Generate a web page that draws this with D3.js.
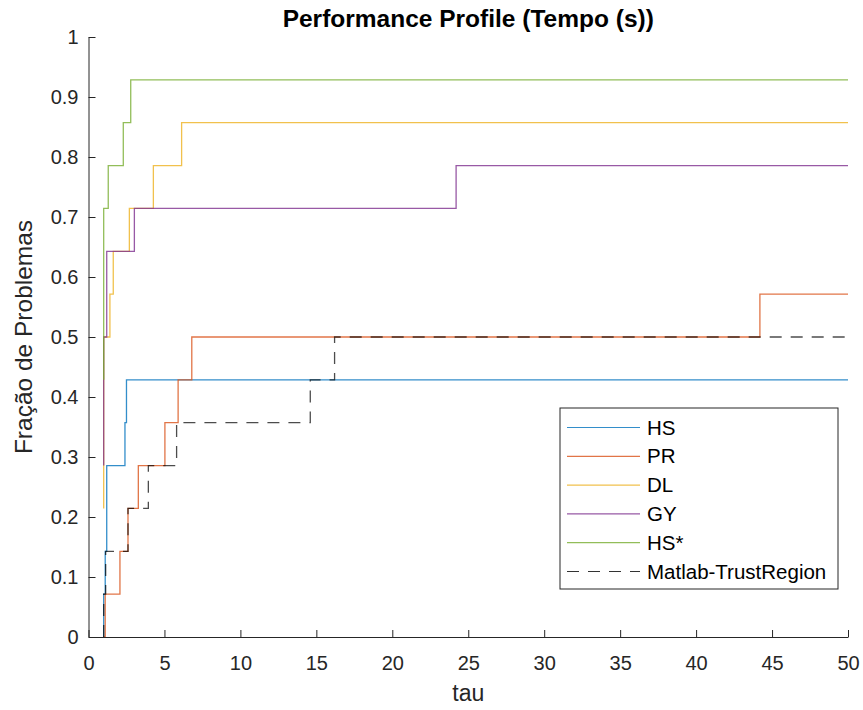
<!DOCTYPE html>
<html>
<head>
<meta charset="utf-8">
<script src="https://cdn.jsdelivr.net/npm/d3@7"></script>
<style>
  body { margin: 0; background: #fff; }
  text { font-family: "Liberation Sans", Arial, sans-serif; fill: #262626; }
</style>
</head>
<body>
<div id="chart"></div>
<script>
var w = 863,
    h = 710,
    m = {top: 37, right: 15, bottom: 73, left: 88.5},
    np = 14;

// step points: [tau, problems solved] (fraction = k / 14)
var seriesNames = ["HS", "PR", "DL", "GY", "HS*", "Matlab-TrustRegion"];
var hs   = [[1, 0], [1, 1], [1.1, 2], [1.2, 4], [2.4, 5], [2.5, 6]];
var pr   = [[1, 0], [1.1, 1], [2.07, 2], [2.6, 3], [3.28, 4], [5.03, 5], [5.9, 6], [6.8, 7], [44.2, 8]];
var dl   = [[1, 3], [1, 7], [1.41, 8], [1.63, 9], [2.69, 10], [4.27, 11], [6.13, 12]];
var gy   = [[1, 4], [1, 7], [1.2, 9], [3.02, 10], [24.2, 11]];
var hss  = [[1, 6], [1, 10], [1.3, 11], [2.29, 12], [2.78, 13]];
var tr   = [[1, 0], [1, 1], [1.13, 2], [2.6, 3], [3.94, 4], [5.8, 5], [14.6, 6], [16.2, 7]];
var colors = ["#0072BD", "#D95319", "#EDB120", "#7E2F8E", "#77AC30", "#000000"];
var xTicks = d3.range(0, 51, 5);
var yTicks = d3.range(0, 11).map(function(i) { return i / 10; });
var tauMax = 50;

var data = [hs, pr, dl, gy, hss, tr].map(function(s, i) {
  var pts = s.map(function(p) { return {tau: p[0], v: p[1] / np}; });
  pts.push({tau: tauMax, v: pts[pts.length - 1].v});
  return {name: seriesNames[i], color: colors[i], dash: i == 5, pts: pts};
});

var x = d3.scaleLinear().domain([0, 50]).range([m.left, w - m.right]);
var y = d3.scaleLinear().domain([0, 1]).range([h - m.bottom, m.top]);

var svg = d3.select("#chart").append("svg")
    .attr("width", w)
    .attr("height", h);

var line = d3.line()
    .x(function(d) { return x(d.tau); })
    .y(function(d) { return y(d.v); })
    .curve(d3.curveStepAfter);

svg.selectAll("path.series")
    .data(data)
  .enter().append("path")
    .attr("class", "series")
    .attr("fill", "none")
    .attr("stroke", function(d) { return d.color; })
    .attr("stroke-width", 1.3)
    .attr("stroke-opacity", function(d) { return d.dash ? 0.7 : 0.8; })
    .attr("stroke-dasharray", function(d) { return d.dash ? "12,9" : null; })
    .attr("d", function(d) { return line(d.pts); });

// axes, ticks inside
var xAxis = svg.append("g")
    .attr("transform", "translate(0," + y(0) + ")")
    .call(d3.axisBottom(x).tickValues(xTicks).tickSizeInner(-7).tickSizeOuter(0).tickPadding(19));
var yAxis = svg.append("g")
    .attr("transform", "translate(" + x(0) + ",0)")
    .call(d3.axisLeft(y).tickValues(yTicks).tickSizeInner(-7).tickSizeOuter(0).tickPadding(10)
      .tickFormat(function(d) { return d === 0 || d === 1 ? d : d3.format(".1f")(d); }));

[xAxis, yAxis].forEach(function(a) {
  a.select(".domain").attr("stroke", "#262626");
  a.selectAll(".tick line").attr("stroke", "#262626");
  a.selectAll(".tick text").attr("font-size", 20).attr("fill", "#262626")
    .attr("font-family", "Liberation Sans, Arial, sans-serif");
});

svg.append("text")
    .attr("x", (x(0) + x(50)) / 2)
    .attr("y", 27)
    .attr("text-anchor", "middle")
    .attr("font-size", 24.5)
    .attr("font-weight", "bold")
    .style("fill", "#000")
    .text("Performance Profile (Tempo (s))");

svg.append("text")
    .attr("x", (x(0) + x(50)) / 2)
    .attr("y", 701)
    .attr("text-anchor", "middle")
    .attr("font-size", 23)
    .text("tau");

svg.append("text")
    .attr("transform", "translate(32," + (y(0) + y(1)) / 2 + ")rotate(-90)")
    .attr("text-anchor", "middle")
    .attr("font-size", 24.5)
    .text("Fração de Problemas");

// legend
var lg = svg.append("g").attr("transform", "translate(560,408)");
lg.append("rect")
    .attr("width", 278)
    .attr("height", 181)
    .attr("fill", "#fff")
    .attr("stroke", "#262626")
    .attr("stroke-width", 1);

var item = lg.selectAll("g.item")
    .data(data)
  .enter().append("g")
    .attr("class", "item")
    .attr("transform", function(d, i) { return "translate(0," + (19.5 + i * 28.8) + ")"; });

item.append("line")
    .attr("x1", 7).attr("x2", 80)
    .attr("stroke", function(d) { return d.color; })
    .attr("stroke-width", 1.2)
    .attr("stroke-opacity", 0.8)
    .attr("stroke-dasharray", function(d) { return d.dash ? "12,9" : null; });

item.append("text")
    .attr("x", 87)
    .attr("dy", "0.35em")
    .attr("font-size", 20.5)
    .style("fill", "#000")
    .text(function(d) { return d.name; });
</script>
</body>
</html>
